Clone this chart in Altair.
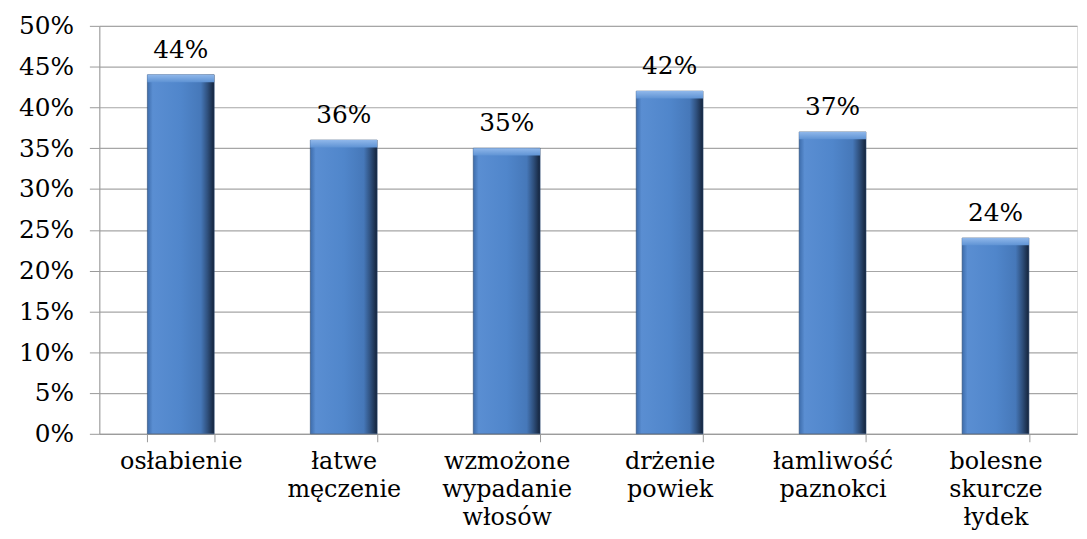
import altair as alt
import pandas as pd

categories = ["osłabienie", "łatwe męczenie", "wzmożone wypadanie włosów",
              "drżenie powiek", "łamliwość paznokci", "bolesne skurcze łydek"]
values = [0.44, 0.36, 0.35, 0.42, 0.37, 0.24]
bevel = 0.009

df = pd.DataFrame({"cat": categories, "val": values})

FONT = "DejaVu Serif"
FS = 24

x_enc = alt.X("cat:N", sort=categories, title=None,
              scale=alt.Scale(paddingInner=0.59, paddingOuter=0.295),
              axis=alt.Axis(labelAngle=0, labelExpr="split(datum.label, ' ')",
                            labelFont=FONT, labelFontSize=FS, labelColor="#000",
                            labelLineHeight=28, labelBaseline="top",
                            labelPadding=8, tickSize=8, tickColor="#999",
                            domainColor="#999", grid=False, tickBand="extent"))

y_scale = alt.Scale(domain=[0, 0.5], nice=False)

body_grad = alt.Gradient(
    gradient="linear", x1=0, x2=1, y1=0, y2=0,
    stops=[alt.GradientStop(offset=0, color="#3d6cab"),
           alt.GradientStop(offset=0.08, color="#5a8ed2"),
           alt.GradientStop(offset=0.5, color="#5086cb"),
           alt.GradientStop(offset=0.8, color="#4678b9"),
           alt.GradientStop(offset=0.9, color="#2f507d"),
           alt.GradientStop(offset=1, color="#14233a")])

top_grad = alt.Gradient(
    gradient="linear", x1=0, x2=0, y1=0, y2=1,
    stops=[alt.GradientStop(offset=0, color="#8fb7ea"),
           alt.GradientStop(offset=1, color="#5f93d4")])

bars = alt.Chart(df).mark_bar(fill=body_grad, stroke="#2a4a75", strokeWidth=0.6).encode(
    x=x_enc,
    y=alt.Y("val:Q", scale=y_scale, title=None,
            axis=alt.Axis(values=[i * 0.05 for i in range(11)], format=".0%",
                          labelFont=FONT, labelFontSize=FS + 1, labelColor="#000",
                          labelPadding=16, tickSize=10, tickColor="#999",
                          domainColor="#999", gridColor="#a6a6a6", gridWidth=1.2)),
)

tops = alt.Chart(df).transform_calculate(low=f"datum.val - {bevel}").mark_bar(
    fill=top_grad).encode(
    x=alt.X("cat:N", sort=categories),
    y=alt.Y("val:Q", scale=y_scale),
    y2="low:Q",
)

labels = alt.Chart(df).mark_text(font=FONT, fontSize=FS + 1, color="#000",
                                 baseline="alphabetic", dy=-17).encode(
    x=alt.X("cat:N", sort=categories),
    y=alt.Y("val:Q", scale=y_scale),
    text=alt.Text("val:Q", format=".0%"),
)

chart = (bars + tops + labels).properties(
    width=985, height=411,
    autosize=alt.AutoSizeParams(type="none"),
    padding={"left": 92, "top": 16, "right": 2, "bottom": 104},
).configure_view(stroke=None).configure(background="white")

chart.save("out.html", embed_options={"renderer": "svg", "actions": False})
